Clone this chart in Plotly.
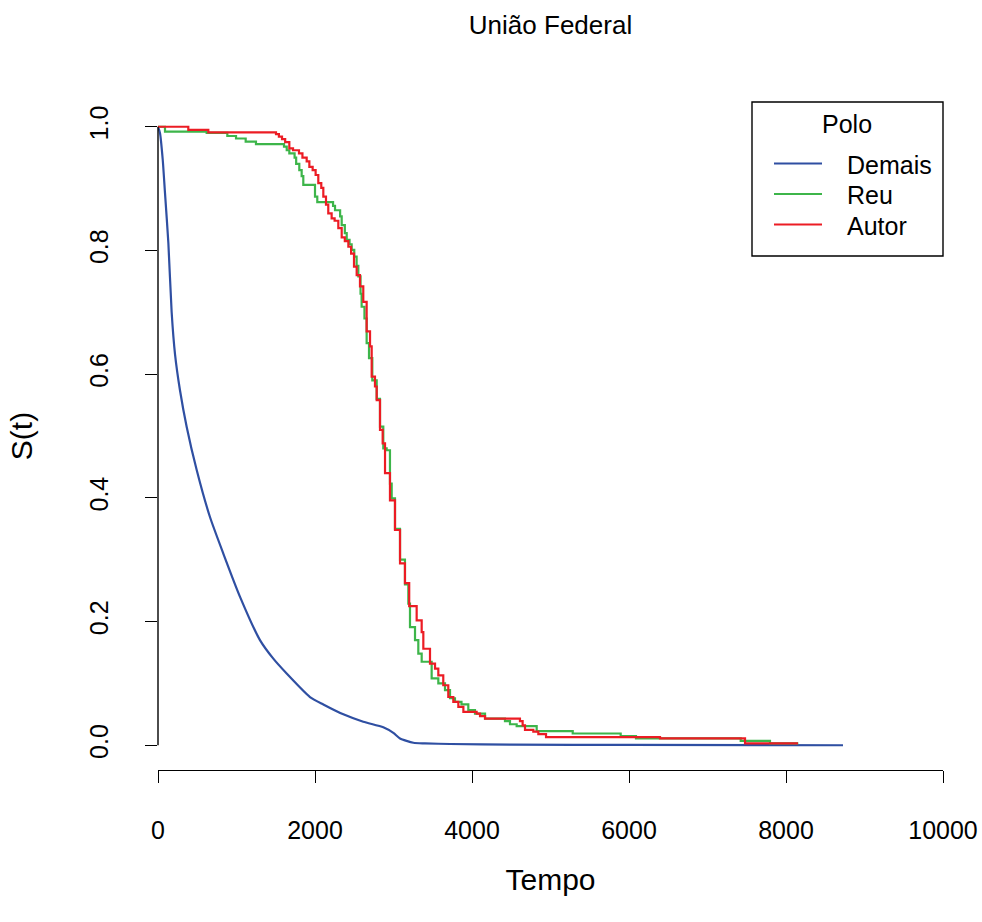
import plotly.graph_objects as go

# ---- data (Kaplan-Meier style curves) ----
demais_t = [0, 25, 60, 89, 132, 174, 217, 280, 365, 493, 662, 832, 1045, 1299, 1469, 1639,
            1936, 2106, 2361, 2615, 2870, 2998, 3083, 3253, 3400, 3720, 4500, 6000, 8726]
demais_s = [1.0, 0.99, 0.947, 0.893, 0.812, 0.700, 0.632, 0.574, 0.515, 0.445, 0.369, 0.310,
            0.240, 0.170, 0.140, 0.116, 0.078, 0.066, 0.050, 0.038, 0.029, 0.020, 0.011,
            0.004, 0.003, 0.002, 0.001, 0.0005, 0.0]

reu_t = [0, 89, 620, 883, 994, 1117, 1248, 1605, 1640, 1673, 1740, 1760, 1800, 1830, 1851,
         2000, 2029, 2230, 2255, 2320, 2340, 2380, 2404, 2440, 2467, 2500, 2530, 2552, 2580,
         2594, 2630, 2658, 2688, 2730, 2786, 2828, 2870, 2913, 2955, 2977, 3019, 3083, 3146,
         3189, 3210, 3274, 3316, 3359, 3486, 3571, 3656, 3720, 3783, 3866, 3953, 4038, 4166,
         4420, 4484, 4569, 4824, 5283, 5894, 6089, 7423, 7796, 8157]
reu_s = [1.0, 0.992, 0.990, 0.985, 0.981, 0.976, 0.972, 0.968, 0.962, 0.957, 0.950, 0.940,
         0.930, 0.920, 0.906, 0.887, 0.878, 0.872, 0.865, 0.855, 0.841, 0.828, 0.817, 0.810,
         0.801, 0.790, 0.775, 0.758, 0.730, 0.709, 0.690, 0.650, 0.626, 0.590, 0.560, 0.515,
         0.480, 0.477, 0.423, 0.399, 0.350, 0.300, 0.260, 0.229, 0.191, 0.170, 0.148, 0.135,
         0.108, 0.100, 0.089, 0.076, 0.070, 0.066, 0.057, 0.051, 0.043, 0.039, 0.034, 0.031,
         0.023, 0.019, 0.015, 0.011, 0.007, 0.003, 0.003]

autor_t = [0, 386, 641, 1503, 1540, 1580, 1620, 1673, 1720, 1796, 1840, 1894, 1928, 1970,
           2008, 2042, 2080, 2106, 2140, 2169, 2212, 2250, 2297, 2340, 2380, 2425, 2460, 2497,
           2531, 2573, 2615, 2658, 2701, 2722, 2764, 2786, 2828, 2862, 2892, 2955, 3019, 3083,
           3146, 3200, 3295, 3359, 3380, 3465, 3529, 3571, 3634, 3698, 3762, 3826, 3890, 4059,
           4102, 4166, 4611, 4645, 4675, 4781, 4845, 4943, 6395, 7478, 8153]
autor_s = [1.0, 0.995, 0.991, 0.988, 0.984, 0.980, 0.975, 0.965, 0.962, 0.957, 0.950, 0.944,
           0.935, 0.930, 0.922, 0.909, 0.901, 0.887, 0.874, 0.860, 0.852, 0.848, 0.836, 0.821,
           0.815, 0.806, 0.795, 0.774, 0.760, 0.742, 0.717, 0.669, 0.645, 0.596, 0.580, 0.558,
           0.510, 0.488, 0.440, 0.396, 0.348, 0.294, 0.262, 0.225, 0.202, 0.183, 0.156, 0.132,
           0.124, 0.113, 0.097, 0.078, 0.070, 0.062, 0.054, 0.051, 0.047, 0.043, 0.039, 0.032,
           0.025, 0.022, 0.018, 0.013, 0.011, 0.003, 0.003]

series_names = ["Demais", "Reu", "Autor"]
x_ticks = [0, 2000, 4000, 6000, 8000, 10000]
y_ticks = [0.0, 0.2, 0.4, 0.6, 0.8, 1.0]
y_tick_text = ["0.0", "0.2", "0.4", "0.6", "0.8", "1.0"]

BLUE = "#2F4FA2"
GREEN = "#3DB54A"
RED = "#EC1C24"
COLORS = [BLUE, GREEN, RED]
FONT = "Liberation Sans, Arial, sans-serif"

fig = go.Figure()
fig.add_trace(go.Scatter(x=demais_t, y=demais_s, mode="lines", name="Demais",
                         line=dict(color=BLUE, width=2.2, shape="spline", smoothing=0.6),
                         showlegend=False))
fig.add_trace(go.Scatter(x=reu_t, y=reu_s, mode="lines", name="Reu",
                         line=dict(color=GREEN, width=2.2, shape="hv"), showlegend=False))
fig.add_trace(go.Scatter(x=autor_t, y=autor_s, mode="lines", name="Autor",
                         line=dict(color=RED, width=2.2, shape="hv"), showlegend=False))

# y axis line spans only the tick range (R style)
fig.add_shape(type="line", xref="paper", yref="y", x0=0, x1=0, y0=0, y1=1,
              line=dict(color="black", width=1.4))

# ---- legend box (R-style, top right of the plot region) ----
L, R_, T, B = 158, 943, 102, 770
W, H = R_ - L, B - T
def px(xp):
    return (xp - L) / W
def py(yp):
    return (B - yp) / H

fig.add_shape(type="rect", xref="paper", yref="paper",
              x0=px(752), x1=1.0, y0=py(256), y1=1.0,
              line=dict(color="black", width=1.4), fillcolor="white", layer="above")
fig.add_annotation(text="Polo", xref="paper", yref="paper", x=px(847), y=py(124),
                   showarrow=False, xanchor="center", yanchor="middle",
                   font=dict(size=25, family=FONT, color="black"))
entry_y = [163.5, 194, 224.5]
for name, col, yy in zip(series_names, COLORS, entry_y):
    fig.add_shape(type="line", xref="paper", yref="paper",
                  x0=px(774), x1=px(822), y0=py(yy), y1=py(yy),
                  line=dict(color=col, width=2.2), layer="above")
    fig.add_annotation(text=name, xref="paper", yref="paper", x=px(845), y=py(yy + 1),
                       showarrow=False, xanchor="left", yanchor="middle",
                       font=dict(size=25, family=FONT, color="black"))

fig.update_layout(
    width=982, height=922,
    margin=dict(l=158, r=39, t=102, b=152, autoexpand=False),
    paper_bgcolor="white", plot_bgcolor="white",
    font=dict(family=FONT, size=25, color="black"),
    title=dict(text="União Federal", x=0.5, xref="paper", y=1 - 25 / 922, yanchor="middle",
               font=dict(size=26, family=FONT)),
    showlegend=False,
    xaxis=dict(range=[0, 10000], tickvals=x_ticks, ticktext=[str(v) for v in x_ticks],
               showline=True, linecolor="black", linewidth=1.4, mirror=False,
               ticks="outside", ticklen=12, tickwidth=1.4, tickcolor="black",
               showgrid=False, zeroline=False, ticklabelstandoff=26, automargin=False,
               tickfont=dict(size=25),
               title=dict(text="Tempo", font=dict(size=30), standoff=25)),
    yaxis=dict(range=[-0.04, 1.04], tickvals=y_ticks, ticktext=y_tick_text,
               showline=False, ticks="outside", ticklen=12, tickwidth=1.4,
               tickcolor="black", tickangle=-90, showgrid=False, zeroline=False,
               ticklabelstandoff=27, tickfont=dict(size=25), automargin=False,
               title=dict(text="S(t)", font=dict(size=30), standoff=43)),
)

fig.write_html("out.html")
